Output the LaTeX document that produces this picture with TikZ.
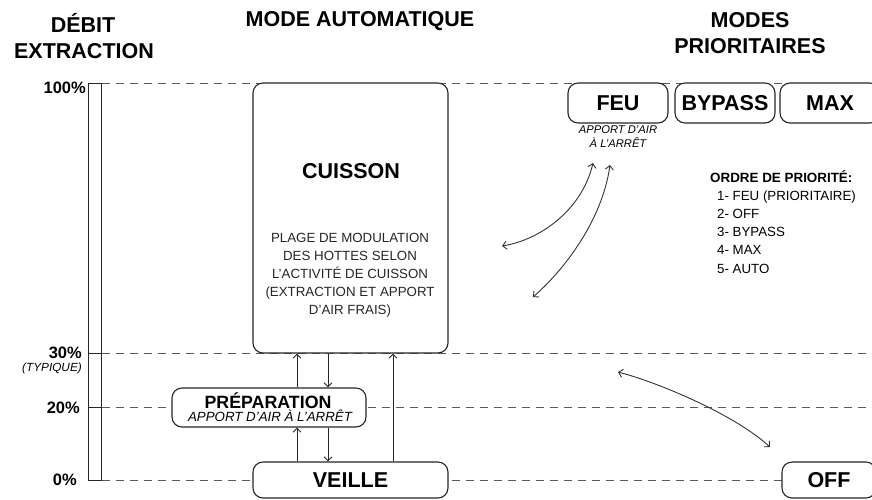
\documentclass[tikz,border=0pt]{standalone}
\usepackage{fontspec}
\setmainfont{Liberation Sans}
\usetikzlibrary{arrows.meta}

\tikzset{
    mode/.style={draw=black!85, line width=1.1pt, rounded corners=10pt, fill=white, inner sep=0pt},
    big/.style={font=\fontsize{21.5}{24}\selectfont\bfseries},
    title/.style={font=\fontsize{21.5}{24}\selectfont\bfseries, inner sep=0pt},
    pct/.style={font=\fontsize{16.5}{18}\selectfont\bfseries, inner sep=0pt},
    small/.style={font=\fontsize{13.3}{18}\selectfont, inner sep=0pt},
    level/.style={dash pattern=on 8pt off 6pt, draw=black!65, line width=1pt},
    flow/.style={-{Straight Barb[length=4pt,width=8pt]}, line width=0.9pt, draw=black!85},
    twoway/.style={{Straight Barb[length=4pt,width=8pt]}-{Straight Barb[length=4pt,width=8pt]}, line width=0.9pt, draw=black!80},
}

\begin{document}
\begin{tikzpicture}[x=1pt, y=-1pt]
    \clip (0,0) rectangle (872,499);

    % Titles
    \node[title, anchor=base] (debit) at (83,32) {DÉBIT};
    \node[title, anchor=base] (extraction) at (84,58) {EXTRACTION};
    \node[title, anchor=base] (auto) at (360,26) {MODE AUTOMATIQUE};
    \node[title, anchor=base] (modes) at (750,27) {MODES};
    \node[title, anchor=base] (prio) at (750,53) {PRIORITAIRES};

    % Flow rate axis
    \draw[line width=1pt, draw=black!85] (88,83) rectangle (101.5,480);
    \draw[line width=1pt, draw=black!85] (88,353) -- (101.5,353) (88,407) -- (101.5,407);
    \node[pct, anchor=base east] (p100) at (86,93) {100\%};
    \node[pct, anchor=base east] (p30) at (82,358.5) {30\%};
    \node[anchor=base east, inner sep=0pt, font=\fontsize{11.8}{14}\selectfont\itshape] (typique) at (82,371.5) {(TYPIQUE)};
    \node[pct, anchor=base east] (p20) at (80,413) {20\%};
    \node[pct, anchor=base east] (p0) at (77,485) {0\%};

    % Dashed levels
    \foreach \y in {83, 353, 407, 480}
        \draw[level] (101.5,\y) -- (872,\y);

    % Automatic mode
    \node[mode, minimum width=195pt, minimum height=270pt] (cuisson) at (350.5,218) {};
    \node[big, anchor=base, inner sep=0pt] (cuissontitle) at (351,178) {CUISSON};
    \node[small, align=center, text=black!85] (cuissontext) at (350,275.5)
        {PLAGE DE MODULATION\\DES HOTTES SELON\\L'ACTIVITÉ DE CUISSON\\(EXTRACTION ET APPORT\\D'AIR FRAIS)};

    \node[mode, minimum width=194pt, minimum height=39pt] (prep) at (269,407.5) {};
    \node[anchor=base, inner sep=0pt, font=\fontsize{17.8}{20}\selectfont\bfseries] (preptitle) at (268,408) {PRÉPARATION};
    \node[anchor=base, inner sep=0pt, font=\fontsize{13.3}{15}\selectfont\itshape] (prepnote) at (270,421.5) {APPORT D'AIR À L'ARRÊT};

    \node[mode, big, minimum width=195pt, minimum height=36pt] (veille) at (350.5,480) {VEILLE};

    % Transitions
    \coordinate (up1) at (297,0);
    \coordinate (down1) at (328,0);
    \coordinate (up2) at (393,0);
    \draw[flow] (up1 |- veille.north) -- (up1 |- prep.south);
    \draw[flow] (up1 |- prep.north) -- (up1 |- cuisson.south);
    \draw[flow] (down1 |- cuisson.south) -- (down1 |- prep.north);
    \draw[flow] (down1 |- prep.south) -- (down1 |- veille.north);
    \draw[flow] (up2 |- veille.north) -- (up2 |- cuisson.south);

    % Priority modes
    \node[mode, big, minimum width=100pt, minimum height=40pt] (feu) at (618,103) {FEU};
    \node[mode, big, minimum width=100pt, minimum height=40pt] (bypass) at (725,103) {BYPASS};
    \node[mode, big, minimum width=100pt, minimum height=40pt] (max) at (830,103) {MAX};
    \node[mode, big, minimum width=94pt, minimum height=36pt] (off) at (829,480) {OFF};
    \node[align=center, inner sep=0pt, font=\fontsize{11.2}{14}\selectfont\itshape] (feunote) at (618,137)
        {APPORT D'AIR\\À L'ARRÊT};

    % Priority order
    \node[anchor=base west, inner sep=0pt, font=\fontsize{13.4}{16}\selectfont\bfseries] (ordre) at (710,182) {ORDRE DE PRIORITÉ:};
    \foreach \item [count=\i] in {1- FEU (PRIORITAIRE), 2- OFF, 3- BYPASS, 4- MAX, 5- AUTO}
        \node[small, anchor=base west] (ordre\i) at (717,182+18.2*\i) {\item};

    % Switching between modes
    \coordinate (sw1a) at (502,246);
    \coordinate (sw1b) at (593,163);
    \coordinate (sw2a) at (533,297);
    \coordinate (sw2b) at (610,165);
    \coordinate (sw3a) at (618,372);
    \coordinate (sw3b) at (770,447);
    \draw[twoway] (sw1a) .. controls (540,240) and (582,210) .. (sw1b);
    \draw[twoway] (sw2a) .. controls (562,272) and (602,222) .. (sw2b);
    \draw[twoway] (sw3a) .. controls (660,383) and (735,415) .. (sw3b);
\end{tikzpicture}
\end{document}
